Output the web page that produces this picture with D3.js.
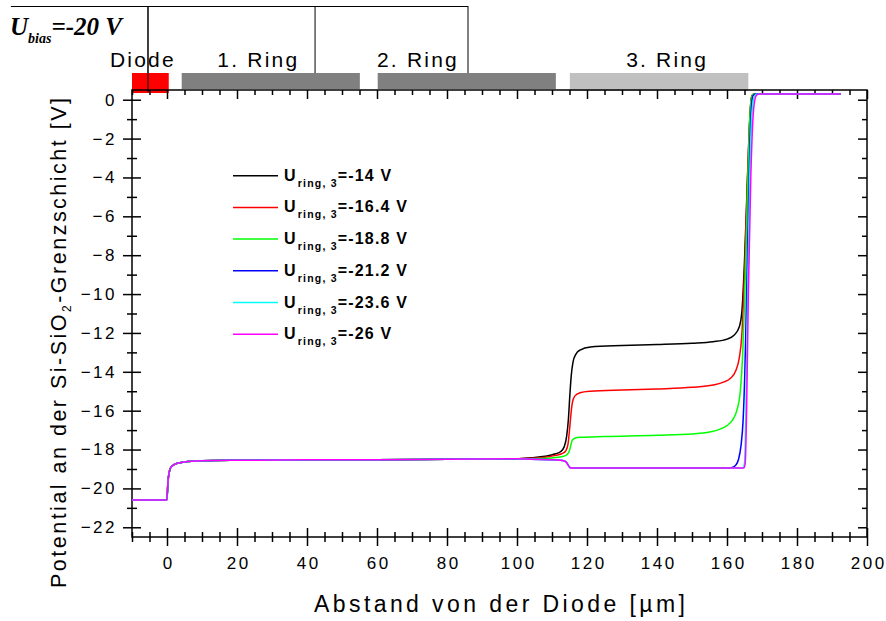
<!DOCTYPE html>
<html><head><meta charset="utf-8">
<script src="https://cdn.jsdelivr.net/npm/d3@7"></script>
<style>body{margin:0;background:#fff} svg{display:block}</style>
</head><body><svg id="c" width="886" height="621"></svg>
<script>
// ---------------- data ----------------
const seriesLabels = ["=-14 V", "=-16.4 V", "=-18.8 V", "=-21.2 V", "=-23.6 V", "=-26 V"];
const seriesColors = ["#000000", "#ff0000", "#00ff00", "#0000ff", "#00ffff", "#ff00ff"];

// shared part of all curves (diode + rings 1 and 2)
const commonPart = [[-10,-20.6],[-0.05,-20.6],[0.3,-19.6],[0.6,-19.2],[1,-18.95],[2,-18.78],[3,-18.7],[5,-18.64],[10,-18.58],[20,-18.55],[40,-18.53],[60,-18.52],[80,-18.5],[100,-18.47]];

const tailU14 = [[104,-18.42],[108,-18.35],[111,-18.22],[112.5,-18.1],[113.5,-17.85],[114.2,-17.3],[114.7,-16.4],[115.1,-15.2],[115.5,-14.2],[116,-13.5],[116.8,-13.1],[118,-12.88],[121,-12.72],[130,-12.65],[140,-12.6],[150,-12.53],[156,-12.45],[160,-12.32],[162,-12.12],[163.5,-11.7],[164.3,-10.8],[165,-8.3],[165.7,-4.8],[166.4,-1.4],[166.9,0],[167.3,0.25],[168,0.3],[192.5,0.3]];
const tailU164 = [[104,-18.45],[108,-18.4],[111,-18.3],[113,-18.2],[114,-18.05],[114.6,-17.7],[115,-17.0],[115.4,-16.2],[115.8,-15.6],[116.5,-15.25],[118,-15.08],[121,-15.0],[130,-14.93],[140,-14.88],[150,-14.8],[156,-14.68],[159,-14.53],[161,-14.33],[162.5,-13.95],[163.5,-13.3],[164.2,-12.2],[164.7,-10.4],[165.2,-7.9],[165.8,-4.4],[166.5,-1],[167.1,0.2],[167.8,0.3],[192.5,0.3]];
const tailU188 = [[104,-18.47],[110,-18.43],[113,-18.36],[114.3,-18.26],[115,-18.05],[115.4,-17.75],[115.8,-17.52],[116.5,-17.42],[118,-17.37],[125,-17.33],[140,-17.27],[150,-17.2],[155,-17.1],[158,-16.95],[160,-16.77],[161.5,-16.5],[162.8,-16.0],[163.8,-15.0],[164.5,-13.0],[165,-10.5],[165.6,-6.5],[166.3,-2],[166.9,0],[167.5,0.28],[168.2,0.3],[192.5,0.3]];
const tailU212 = [[104,-18.5],[110,-18.52],[113,-18.56],[114,-18.63],[114.6,-18.8],[115.1,-18.92],[116,-18.95],[140,-18.95],[160,-18.95],[161.5,-18.92],[162.5,-18.8],[163.3,-18.5],[164,-17.8],[164.6,-16.5],[165.1,-14],[165.6,-10],[166.2,-5],[166.8,-1],[167.4,0.2],[168.2,0.3],[192.5,0.3]];
const tailU236 = [[104,-18.5],[110,-18.52],[113,-18.56],[114,-18.63],[114.6,-18.8],[115.1,-18.92],[116,-18.95],[140,-18.95],[164.5,-18.95],[165,-18.7],[165.4,-16],[165.9,-10],[166.5,-4],[167.2,-0.5],[167.9,0.2],[168.6,0.3],[192.5,0.3]];
const tailU26 = [[104,-18.5],[110,-18.52],[113,-18.56],[114,-18.63],[114.6,-18.8],[115.1,-18.92],[116,-18.95],[140,-18.95],[164.8,-18.95],[165.2,-18.7],[165.6,-16],[166.1,-10],[166.8,-4],[167.6,-0.5],[168.3,0.2],[169,0.3],[192.5,0.3]];
const seriesTails = [tailU14, tailU164, tailU188, tailU212, tailU236, tailU26];

const xMajorTicks = [0,20,40,60,80,100,120,140,160,180,200];
const xMinorTicks = [-10,-5,5,10,15,25,30,35,45,50,55,65,70,75,85,90,95,105,110,115,125,130,135,145,150,155,165,170,175,185,190,195];
const yMajorTicks = [0,-2,-4,-6,-8,-10,-12,-14,-16,-18,-20,-22];
const yMinorTicks = [-1,-3,-5,-7,-9,-11,-13,-15,-17,-19,-21];

const regionNames = ["Diode", "1. Ring", "2. Ring", "3. Ring"];
const regionStart = [-10, 4.2, 60.2, 115.1];
const regionEnd = [0.5, 55.1, 111.1, 166.1];
const regionColors = ["#ff0000", "#808080", "#808080", "#c0c0c0"];
const regionLabelX = [-6.9, 26.1, 71.7, 142.9];
const markerX = [-5.43, 42.3, 86.0];

// ---------------- chart ----------------
const svg = d3.select("#c");
const x = d3.scaleLinear().domain([-10, 200]).range([132, 867]);
const y = d3.scaleLinear().domain([-22.5, 0.5]).range([537, 90]);
const AX = "Arial, 'Liberation Sans', sans-serif";

// header decorations
const hdr = svg.append("g").attr("stroke", "#000").attr("stroke-width", 1);
hdr.append("line").attr("x1", x(-44.6)).attr("x2", x(86.0)).attr("y1", 6.5).attr("y2", 6.5);
markerX.forEach((m, i) => {
  hdr.append("line").attr("x1", x(m)).attr("x2", x(m)).attr("y1", 6).attr("y2", i === 0 ? 92 : 73);
});

// region bars
regionNames.forEach((n, i) => {
  const h = i === 0 ? [73, 93] : (i === 3 ? [73, 91] : [73, 89]);
  svg.append("rect").attr("x", x(regionStart[i])).attr("width", x(regionEnd[i]) - x(regionStart[i]))
    .attr("y", h[0]).attr("height", h[1] - h[0]).attr("fill", regionColors[i]);
  svg.append("text").attr("x", x(regionLabelX[i])).attr("y", 67).attr("text-anchor", "middle")
    .attr("font-family", AX).attr("font-size", 21).attr("letter-spacing", "2.2px").text(n);
});
// re-draw vertical marker over diode box
svg.append("line").attr("x1", x(markerX[0])).attr("x2", x(markerX[0])).attr("y1", 6).attr("y2", 92).attr("stroke", "#000").attr("stroke-width", 1);

// U_bias text
const ub = svg.append("text").attr("x", 10).attr("y", 35).attr("font-family", "'Liberation Serif', 'Times New Roman', serif")
  .attr("font-weight", "bold").attr("font-style", "italic").attr("font-size", 25);
ub.append("tspan").text("U");
ub.append("tspan").attr("font-size", 14).attr("dy", 8).text("bias");
ub.append("tspan").attr("dy", -8).text("=-20 V");

// axes
function styleAxis(g, cross, size) {
  g.select(".domain").remove();
  g.selectAll(".tick line").attr("stroke", "#000").attr("stroke-width", 1.5);
  if (cross) g.selectAll(".tick line").attr(cross, -size);
  g.selectAll("text").attr("font-family", AX).attr("font-size", 17).attr("fill", "#000").attr("letter-spacing", "2.5px");
}
// bottom
const gb = svg.append("g").attr("transform", `translate(0,${y(-22.5)})`)
  .call(d3.axisBottom(x).tickValues(xMajorTicks).tickSize(9).tickSizeOuter(0).tickPadding(11));
styleAxis(gb, "y1", 9);
gb.selectAll("text").attr("dx", "1.2px");
const gbm = svg.append("g").attr("transform", `translate(0,${y(-22.5)})`)
  .call(d3.axisBottom(x).tickValues(xMinorTicks).tickSize(5).tickSizeOuter(0).tickFormat(""));
styleAxis(gbm, "y1", 5);
// left
const gl = svg.append("g").attr("transform", `translate(${x(-10)},0)`)
  .call(d3.axisLeft(y).tickValues(yMajorTicks).tickSize(9).tickSizeOuter(0).tickPadding(6));
styleAxis(gl, "x1", -9);
gl.selectAll(".tick line").attr("x1", 9).attr("x2", -9);
const glm = svg.append("g").attr("transform", `translate(${x(-10)},0)`)
  .call(d3.axisLeft(y).tickValues(yMinorTicks).tickSize(5).tickSizeOuter(0).tickFormat(""));
styleAxis(glm, null, 0);
glm.selectAll(".tick line").attr("x1", 5).attr("x2", -5);
// top (inward)
const gt = svg.append("g").attr("transform", `translate(0,${y(0.5)})`)
  .call(d3.axisBottom(x).tickValues(xMajorTicks).tickSize(9).tickSizeOuter(0).tickFormat(""));
styleAxis(gt, null, 0);
const gtm = svg.append("g").attr("transform", `translate(0,${y(0.5)})`)
  .call(d3.axisBottom(x).tickValues(xMinorTicks).tickSize(5).tickSizeOuter(0).tickFormat(""));
styleAxis(gtm, null, 0);
// right (inward)
const gr = svg.append("g").attr("transform", `translate(${x(200)},0)`)
  .call(d3.axisLeft(y).tickValues(yMajorTicks).tickSize(9).tickSizeOuter(0).tickFormat(""));
styleAxis(gr, null, 0);
const grm = svg.append("g").attr("transform", `translate(${x(200)},0)`)
  .call(d3.axisLeft(y).tickValues(yMinorTicks).tickSize(5).tickSizeOuter(0).tickFormat(""));
styleAxis(grm, null, 0);

// frame
svg.append("rect").attr("x", x(-10)).attr("y", y(0.5)).attr("width", x(200) - x(-10)).attr("height", y(-22.5) - y(0.5))
  .attr("fill", "none").attr("stroke", "#000").attr("stroke-width", 1.5);

// curves
const line = d3.line().x(d => x(d[0])).y(d => y(d[1])).curve(d3.curveMonotoneX);
seriesTails.forEach((t, i) => {
  svg.append("path").datum(commonPart.concat(t)).attr("d", line)
    .attr("fill", "none").attr("stroke", seriesColors[i]).attr("stroke-width", 1.5).attr("stroke-linejoin", "round");
});

// legend
seriesLabels.forEach((lab, i) => {
  const ly = 175.7 + i * 31.7;
  svg.append("line").attr("x1", 233).attr("x2", 278).attr("y1", ly).attr("y2", ly)
    .attr("stroke", seriesColors[i]).attr("stroke-width", 1.5);
  const t = svg.append("text").attr("x", 284).attr("y", ly + 5).attr("font-family", AX)
    .attr("font-weight", "bold").attr("font-size", 16).attr("letter-spacing", "1.2px");
  t.append("tspan").text("U");
  t.append("tspan").attr("font-size", 10.5).attr("dy", 6).attr("dx", 1).text("ring, 3");
  t.append("tspan").attr("dy", -6).text(lab);
});

// axis titles
svg.append("text").attr("x", 314).attr("y", 612).attr("font-family", AX).attr("font-size", 23)
  .attr("textLength", 371).attr("lengthAdjust", "spacing").text("Abstand von der Diode [µm]");
const yt = svg.append("text").attr("transform", "translate(66,588) rotate(-90)").attr("font-family", AX).attr("font-size", 21.5)
  .attr("textLength", 490).attr("lengthAdjust", "spacing");
yt.append("tspan").text("Potential an der Si-SiO");
yt.append("tspan").attr("font-size", 12).attr("dy", 5).text("2");
yt.append("tspan").attr("dy", -5).text("-Grenzschicht [V]");
</script></body></html>
